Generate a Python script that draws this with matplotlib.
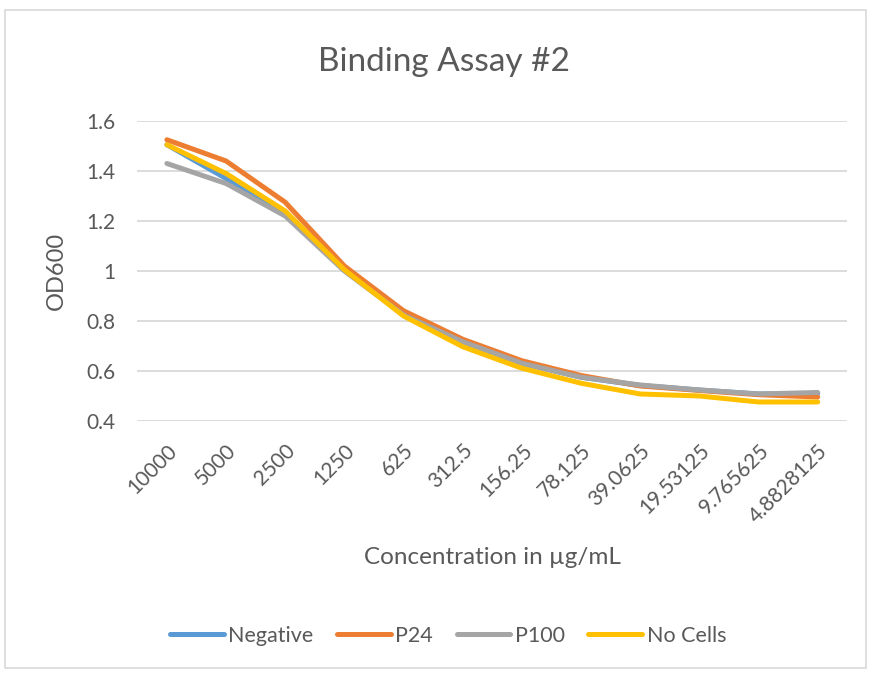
import matplotlib
matplotlib.use("Agg")
import matplotlib.pyplot as plt
from matplotlib.patches import Rectangle

# data
concentrations = ["10000", "5000", "2500", "1250", "625", "312.5", "156.25",
                  "78.125", "39.0625", "19.53125", "9.765625", "4.8828125"]
negative = [1.505, 1.37, 1.23, 1.01, 0.83, 0.715, 0.63, 0.575, 0.542, 0.524, 0.508, 0.51]
p24      = [1.525, 1.44, 1.275, 1.02, 0.841, 0.727, 0.641, 0.582, 0.54, 0.522, 0.505, 0.496]
p100     = [1.43, 1.35, 1.22, 1.0, 0.824, 0.717, 0.631, 0.575, 0.544, 0.524, 0.508, 0.514]
no_cells = [1.505, 1.39, 1.24, 1.005, 0.82, 0.697, 0.611, 0.551, 0.508, 0.5, 0.476, 0.476]

series = [("Negative", negative, "#5B9BD5"),
          ("P24", p24, "#ED7D31"),
          ("P100", p100, "#A5A5A5"),
          ("No Cells", no_cells, "#FFC000")]

TEXT = "#595959"
GRID = "#d9d9d9"
plt.rcParams["font.family"] = ["Lato", "DejaVu Sans"]

fig = plt.figure(figsize=(8.69, 6.74), dpi=100)
fig.patch.set_facecolor("white")
fig.patches.append(Rectangle((5 / 869, 1 - 668 / 674), 861 / 869, 658 / 674,
                             transform=fig.transFigure, fill=False,
                             edgecolor=GRID, linewidth=1.2))

ax = fig.add_axes([0.158, 0.3754, 0.817, 0.4451])
x = range(len(concentrations))
for name, vals, color in series:
    ax.plot(x, vals, color=color, linewidth=3.6, label=name, solid_capstyle="round")

ax.set_xlim(-0.5, len(concentrations) - 0.5)
ax.set_ylim(0.4, 1.6)
ax.set_yticks([0.4, 0.6, 0.8, 1.0, 1.2, 1.4, 1.6])
ax.set_yticklabels(["0.4", "0.6", "0.8", "1", "1.2", "1.4", "1.6"])
ax.set_xticks(list(x))
ax.set_xticklabels(concentrations, rotation=45, ha="right", va="top",
                   rotation_mode="anchor")
ax.tick_params(axis="both", length=0, labelsize=15, colors=TEXT)
ax.tick_params(axis="y", pad=16)
ax.tick_params(axis="x", pad=14)
for spine in ax.spines.values():
    spine.set_visible(False)
ax.yaxis.grid(True, color=GRID, linewidth=1.3)
ax.set_axisbelow(True)

fig.text(444 / 869, 1 - 62 / 674, "Binding Assay #2", fontsize=24, color=TEXT,
         ha="center", va="center")
ax.set_xlabel("Concentration in µg/mL", fontsize=17.5, color=TEXT, labelpad=15)
ax.set_ylabel("OD600", fontsize=17, color=TEXT, labelpad=14)

fig.legend(loc="center", bbox_to_anchor=(448 / 869, 1 - 636 / 674), ncol=4,
           frameon=False, fontsize=15.5, labelcolor=TEXT, handlelength=2.5,
           handletextpad=0.2, columnspacing=1.1)

plt.savefig("out.png", dpi=100, facecolor=fig.get_facecolor())
